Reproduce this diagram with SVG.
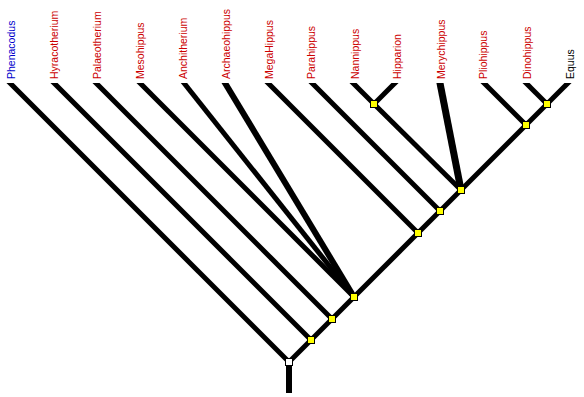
<svg xmlns="http://www.w3.org/2000/svg" width="584" height="397" viewBox="0 0 584 397">
<defs>
<style>
.lbl{font-family:"Liberation Sans",Arial,sans-serif;font-size:10.5px}
.red{fill:#cc0000}
.blue{fill:#0000cc}
.blk{fill:#000000}
.br{stroke:#000;stroke-width:5;fill:none;stroke-linecap:butt}
.node{fill:#ffff00;stroke:#000;stroke-width:1}
.root{fill:#ffffff;stroke:#000;stroke-width:1}
</style>
<clipPath id="clip"><rect x="0" y="83" width="584" height="314"/></clipPath>
</defs>
<rect width="584" height="397" fill="#fff"/>
<g id="connectors" clip-path="url(#clip)">
<line class="br" x1="289" y1="362" x2="289" y2="393" style="stroke-width:6"/>
<line class="br" x1="289" y1="362" x2="5" y2="78"/>
<line class="br" x1="289" y1="362" x2="573" y2="78"/>
<line class="br" x1="311" y1="340" x2="49" y2="78"/>
<line class="br" x1="332" y1="319" x2="91" y2="78"/>
<line class="br" x1="354" y1="297" x2="135" y2="78"/>
<line class="br" x1="354" y1="297" x2="180" y2="78"/>
<line class="br" x1="354" y1="297" x2="222" y2="78" style="stroke-width:6"/>
<line class="br" x1="418" y1="233" x2="263" y2="78"/>
<line class="br" x1="440" y1="211" x2="307" y2="78"/>
<line class="br" x1="461" y1="190" x2="374" y2="104"/>
<line class="br" x1="374" y1="104" x2="348" y2="78"/>
<line class="br" x1="374" y1="104" x2="400" y2="78"/>
<line class="br" x1="461" y1="190" x2="439" y2="78" style="stroke-width:7"/>
<line class="br" x1="526" y1="125" x2="479" y2="78"/>
<line class="br" x1="547" y1="104" x2="521" y2="78"/>
</g>
<g id="node-root"><rect class="root" x="285.5" y="358.5" width="7" height="7"/></g>
<g id="node-1"><rect class="node" x="307.5" y="336.5" width="7" height="7"/></g>
<g id="node-2"><rect class="node" x="328.5" y="315.5" width="7" height="7"/></g>
<g id="node-3"><rect class="node" x="350.5" y="293.5" width="7" height="7"/></g>
<g id="node-4"><rect class="node" x="414.5" y="229.5" width="7" height="7"/></g>
<g id="node-5"><rect class="node" x="436.5" y="207.5" width="7" height="7"/></g>
<g id="node-6"><rect class="node" x="457.5" y="186.5" width="7" height="7"/></g>
<g id="node-7"><rect class="node" x="370.5" y="100.5" width="7" height="7"/></g>
<g id="node-8"><rect class="node" x="522.5" y="121.5" width="7" height="7"/></g>
<g id="node-9"><rect class="node" x="543.5" y="100.5" width="7" height="7"/></g>
<g id="taxon-phenacodus"><text class="lbl blue" transform="translate(14.5,79) rotate(-90)">Phenacodus</text></g>
<g id="taxon-hyracotherium"><text class="lbl red" transform="translate(57.5,79) rotate(-90)">Hyracotherium</text></g>
<g id="taxon-palaeotherium"><text class="lbl red" transform="translate(101,79) rotate(-90)">Palaeotherium</text></g>
<g id="taxon-mesohippus"><text class="lbl red" transform="translate(143.5,79) rotate(-90)">Mesohippus</text></g>
<g id="taxon-anchitherium"><text class="lbl red" transform="translate(187,79) rotate(-90)">Anchitherium</text></g>
<g id="taxon-archaeohippus"><text class="lbl red" transform="translate(230,79) rotate(-90)">Archaeohippus</text></g>
<g id="taxon-megahippus"><text class="lbl red" transform="translate(273,79) rotate(-90)">MegaHippus</text></g>
<g id="taxon-parahippus"><text class="lbl red" transform="translate(315,79) rotate(-90)">Parahippus</text></g>
<g id="taxon-nannippus"><text class="lbl red" transform="translate(359,79) rotate(-90)">Nannippus</text></g>
<g id="taxon-hipparion"><text class="lbl red" transform="translate(401,79) rotate(-90)">Hipparion</text></g>
<g id="taxon-merychippus"><text class="lbl red" transform="translate(445,79) rotate(-90)">Merychippus</text></g>
<g id="taxon-pliohippus"><text class="lbl red" transform="translate(487,79) rotate(-90)">Pliohippus</text></g>
<g id="taxon-dinohippus"><text class="lbl red" transform="translate(530.5,79) rotate(-90)">Dinohippus</text></g>
<g id="taxon-equus"><text class="lbl blk" transform="translate(574,79) rotate(-90)">Equus</text></g>
</svg>
